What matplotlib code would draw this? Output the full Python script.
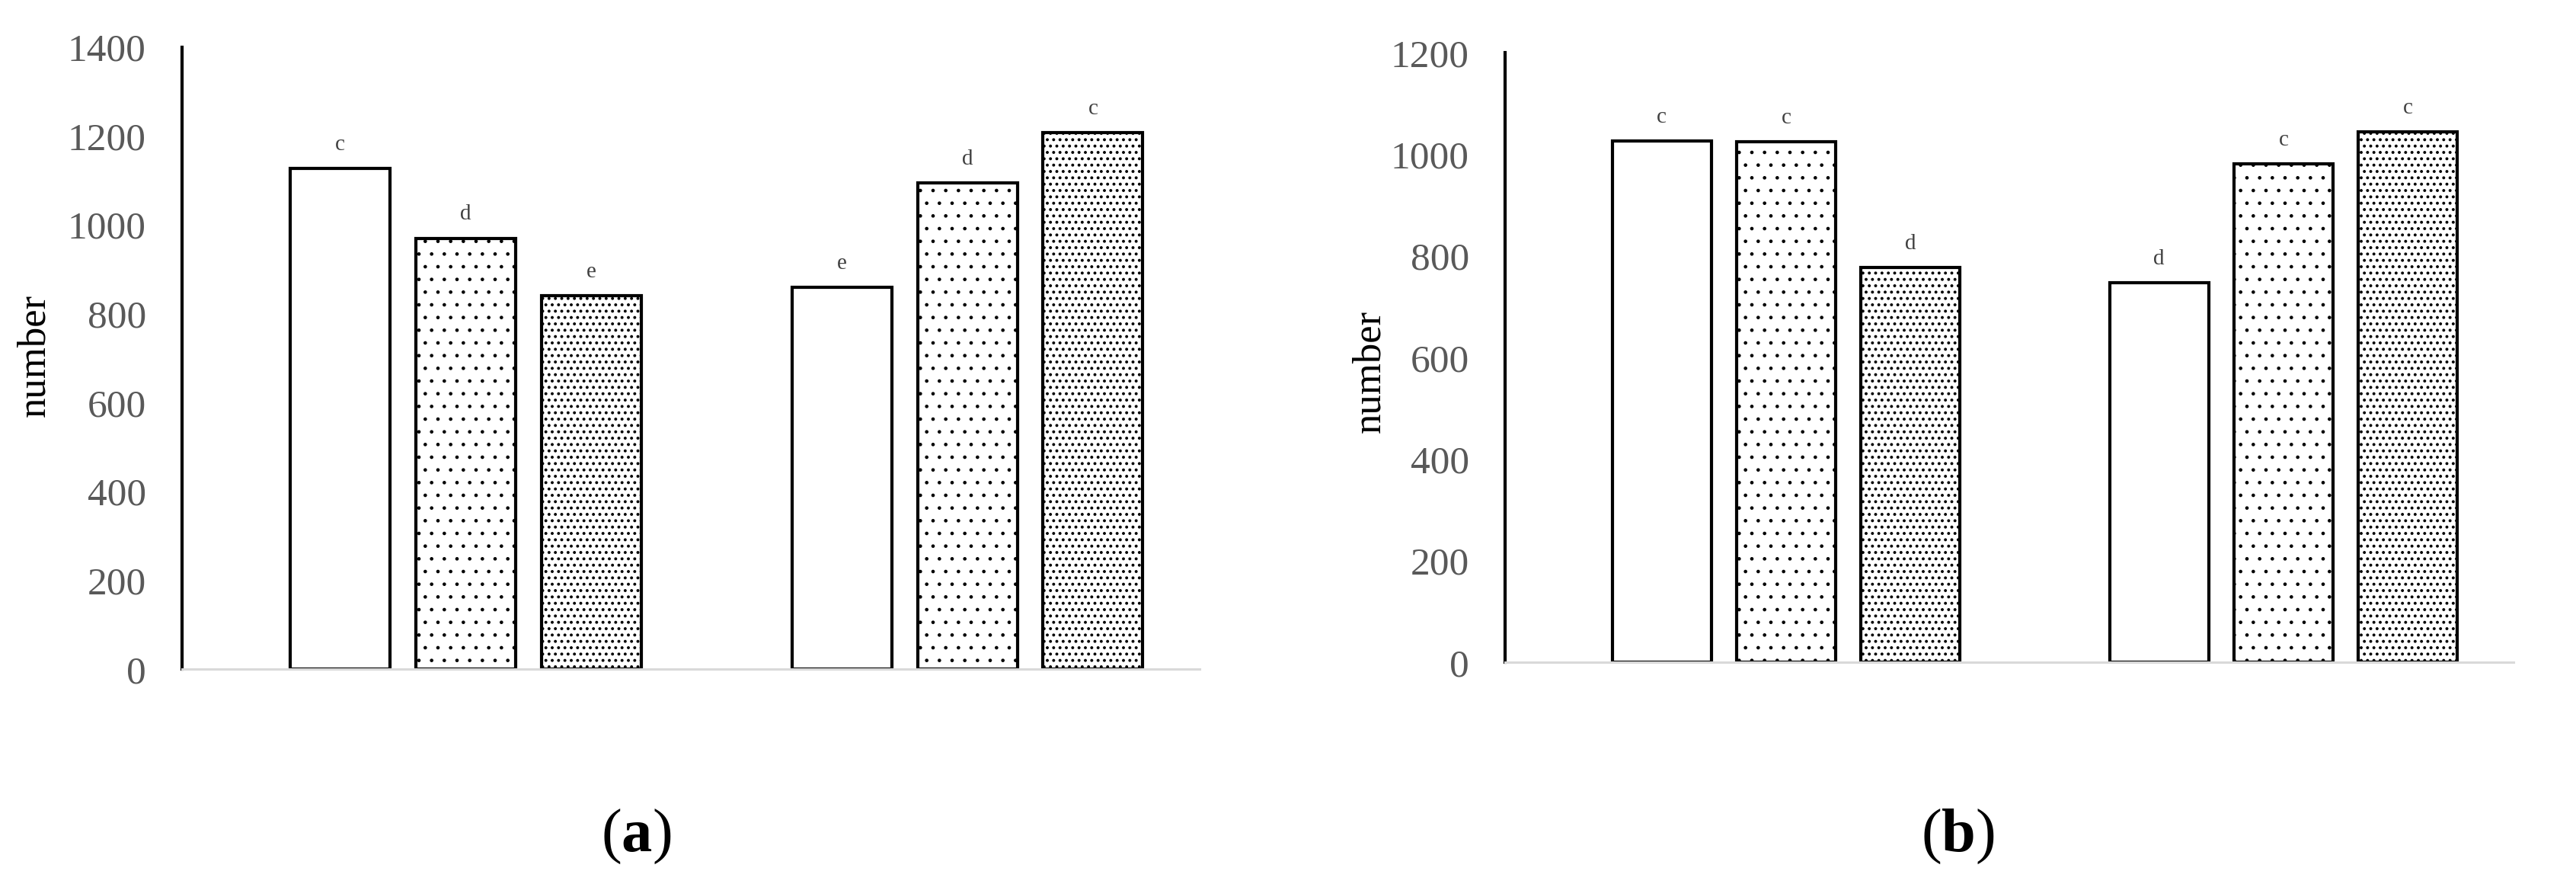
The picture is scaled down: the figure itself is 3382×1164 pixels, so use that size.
import matplotlib
matplotlib.use("Agg")
import matplotlib.pyplot as plt
import numpy as np

# ---- data ----
groups = ["group 1", "group 2"]
series_hatches = ["", ".", ".."]

a_values = [1127, 970, 840, 860, 1094, 1207]
a_letters = ["c", "d", "e", "e", "d", "c"]
a_yticks = [0, 200, 400, 600, 800, 1000, 1200, 1400]

b_values = [1027, 1025, 778, 748, 981, 1045]
b_letters = ["c", "c", "d", "d", "c", "c"]
b_yticks = [0, 200, 400, 600, 800, 1000, 1200]

ylabel_text = "number"
captions = ["a", "b"]

plt.rcParams["font.family"] = ["Liberation Serif", "DejaVu Serif"]
plt.rcParams["mathtext.fontset"] = "custom"
plt.rcParams["mathtext.rm"] = "Liberation Serif"
plt.rcParams["mathtext.bf"] = "Liberation Serif:bold"

hatch_lws = [1.0, 0.9, 1.6]

W, H = 3382, 1164
fig = plt.figure(figsize=(W / 100, H / 100), dpi=100)

def px_axes(x0, x1, y_top, y_bot):
    return [x0 / W, 1 - y_bot / H, (x1 - x0) / W, (y_bot - y_top) / H]

panels = [
    dict(rect=px_axes(239, 1575, 61.7, 878.3), values=a_values, letters=a_letters,
         yticks=a_yticks, ylab=(45, 466), cap=(835, 1098), cap_text=captions[0]),
    dict(rect=px_axes(1976, 3300, 69.3, 869.3), values=b_values, letters=b_letters,
         yticks=b_yticks, ylab=(1798, 487), cap=(2570, 1098), cap_text=captions[1]),
]

n_series = len(series_hatches)
group_step = n_series + 1

for p in panels:
    ax = fig.add_axes(p["rect"])
    for gi, g in enumerate(groups):
        for si, hatch in enumerate(series_hatches):
            idx = gi * n_series + si
            xpos = gi * group_step + si
            val = p["values"][idx]
            plt.rcParams["hatch.linewidth"] = hatch_lws[si]
            bars = ax.bar(xpos, val, width=0.795, facecolor="white", edgecolor="black",
                          linewidth=3, hatch=hatch)
            for b in bars:
                try:
                    b.set_hatch_linewidth(hatch_lws[si])
                except AttributeError:
                    pass
            ax.annotate(p["letters"][idx], (xpos, val), xytext=(0, 13),
                        textcoords="offset points", ha="center", va="bottom",
                        fontsize=21, color="#404040")
    ax.set_xlim(-1.26, 6.85)
    ax.set_ylim(p["yticks"][0], p["yticks"][-1])
    ax.set_yticks(p["yticks"])
    ax.set_xticks([])
    ax.tick_params(axis="y", length=0, pad=34, labelsize=37, labelcolor="#595959")
    for s in ["top", "right"]:
        ax.spines[s].set_visible(False)
    ax.spines["left"].set_color("black")
    ax.spines["left"].set_linewidth(3)
    ax.spines["bottom"].set_color("#d9d9d9")
    ax.spines["bottom"].set_linewidth(2.2)
    ax.patch.set_alpha(0)
    fig.text(p["ylab"][0] / W, 1 - p["ylab"][1] / H, ylabel_text, rotation=90,
             ha="center", va="center", fontsize=38, color="black")
    fig.text(p["cap"][0] / W, 1 - p["cap"][1] / H, "($\\mathbf{%s}$)" % p["cap_text"],
             ha="center", va="center", fontsize=58, color="black")

fig.savefig("out.png", dpi=100, facecolor="white")
